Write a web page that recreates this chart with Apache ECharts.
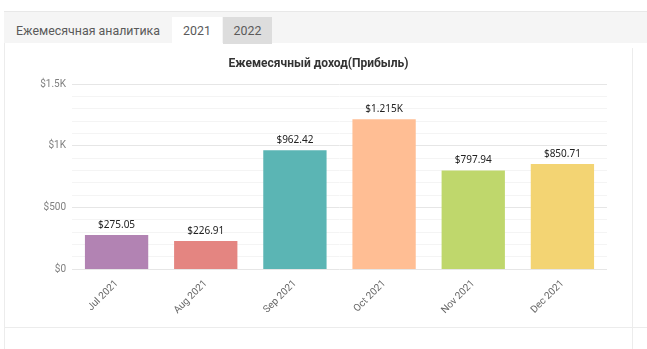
<!DOCTYPE html>
<html>
<head>
<meta charset="utf-8">
<script src="https://cdn.jsdelivr.net/npm/echarts@6/dist/echarts.min.js"></script>
<style>
  html, body { margin: 0; padding: 0; background: #fff; width: 647px; height: 349px; overflow: hidden; }
  .tabs-bar { position: absolute; left: 4px; top: 11px; width: 643px; height: 32px; background: #f5f5f5; border-top: 1px solid #e8e8e8; box-sizing: border-box; }
  .tab { position: absolute; top: 5px; height: 27px; line-height: 27px; font-family: Roboto, sans-serif; font-size: 12.4px; color: #5a5a5a; text-align: center; }
  .tab-main { left: 0; width: 168px; }
  .tab-2021 { left: 168px; width: 50px; background: #fff; }
  .tab-2022 { left: 219px; width: 49px; background: #dddddd; }
  .panel-left { position: absolute; left: 4px; top: 43px; width: 1px; height: 306px; background: #ececec; }
  .panel-right { position: absolute; left: 632px; top: 48px; width: 1px; height: 301px; background: #ececec; }
  .panel-bottom { position: absolute; left: 4px; top: 327px; width: 643px; height: 1px; background: #ececec; }
  #chart { position: absolute; left: 5px; top: 44px; width: 627px; height: 283px; }
</style>
</head>
<body>
<div class="tabs-bar">
  <div class="tab tab-main">Ежемесячная аналитика</div>
  <div class="tab tab-2021">2021</div>
  <div class="tab tab-2022">2022</div>
</div>
<div class="panel-left"></div>
<div class="panel-right"></div>
<div class="panel-bottom"></div>
<div id="chart"></div>
<script>
// chart data
const months = ["Jul 2021", "Aug 2021", "Sep 2021", "Oct 2021", "Nov 2021", "Dec 2021"];
const income = [275.05, 226.91, 962.42, 1215, 797.94, 850.71];
const barColors = ["#b283b3", "#e48581", "#5bb5b4", "#ffbe94", "#bfd76c", "#f3d473"];
const titleText = "Ежемесячный доход(Прибыль)";

const money = (v) => {
  if (v >= 1000) return "$" + (v / 1000) + "K";
  return "$" + v;
};

const chartDom = document.getElementById("chart");
const myChart = echarts.init(chartDom);

const option = {
  animation: false,
  title: {
    text: titleText,
    left: "center",
    top: 9,
    textStyle: {
      fontFamily: "Roboto",
      fontSize: 12,
      fontWeight: "bold",
      color: "#333"
    }
  },
  grid: {
    left: 67,
    right: 25,
    top: 40,
    bottom: 58
  },
  xAxis: {
    type: "category",
    data: months,
    axisLine: { show: false },
    axisTick: { show: false },
    axisLabel: {
      rotate: 45,
      margin: 13,
      color: "#666",
      fontFamily: "Roboto",
      fontSize: 10
    }
  },
  yAxis: {
    type: "value",
    min: 0,
    max: 1500,
    interval: 500,
    axisLine: { show: false },
    axisTick: { show: false },
    axisLabel: {
      color: "#808080",
      fontFamily: "Roboto",
      fontSize: 10,
      margin: 6,
      formatter: (v) => money(v)
    },
    splitLine: { lineStyle: { color: "#e6e6e6", width: 1 } },
    minorTick: { show: false, splitNumber: 5 },
    minorSplitLine: { show: true, lineStyle: { color: "#f4f4f4", width: 1 } }
  },
  series: [{
    type: "bar",
    barWidth: "71%",
    data: income.map((v, i) => ({ value: v, itemStyle: { color: barColors[i] } })),
    label: {
      show: true,
      position: "top",
      distance: 5,
      color: "#222",
      fontFamily: "Noto Sans",
      fontSize: 10,
      formatter: (p) => p.value >= 1000 ? "$" + (p.value / 1000) + "K" : "$" + p.value.toFixed(2)
    }
  }]
};

myChart.setOption(option);
</script>
</body>
</html>
